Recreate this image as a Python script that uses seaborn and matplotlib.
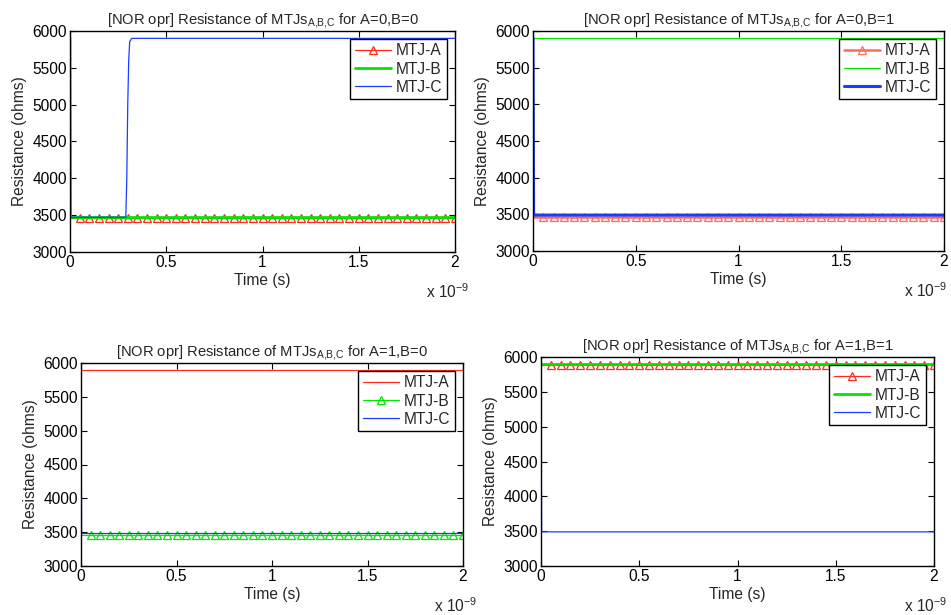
import numpy as np
import pandas as pd
import seaborn as sns
import matplotlib
matplotlib.use("Agg")
import matplotlib.pyplot as plt

sns.set_theme(style="white")
plt.rcParams['font.family'] = ['Liberation Sans', 'DejaVu Sans']
plt.rcParams['mathtext.fontset'] = 'custom'
plt.rcParams['mathtext.rm'] = 'Liberation Sans'
plt.rcParams['mathtext.it'] = 'Liberation Sans'

# ---- data (time in ns, resistance in ohms) ----
series_names = ["MTJ-A", "MTJ-B", "MTJ-C"]
titles = ["A=0,B=0", "A=0,B=1", "A=1,B=0", "A=1,B=1"]
xticks = [0, 0.5, 1, 1.5, 2]
yticks = [3000, 3500, 4000, 4500, 5000, 5500, 6000]

t_const = [0.0, 2.0]
t_drop = [0.0, 0.003, 2.0]
t_switch = [0.0, 0.29, 0.295, 0.30, 0.305, 0.31, 0.32, 2.0]
t_mark = [round(0.05 * i, 2) for i in range(0, 41)]

# panel 1: A=0,B=0
p1_A = [3455] * len(t_mark)
p1_B = [5900, 3468, 3468]
p1_C = [3472, 3472, 4000, 5000, 5600, 5850, 5900, 5900]
# panel 2: A=0,B=1
p2_A = [3462] * len(t_mark)
p2_B = [5900, 5900]
p2_C = [5900, 3490, 3490]
# panel 3: A=1,B=0
p3_A = [5890, 5890]
p3_B = [3462] * len(t_mark)
p3_C = [5900, 3480, 3480]
# panel 4: A=1,B=1
p4_A = [5882] * len(t_mark)
p4_B = [5900, 5900]
p4_C = [5900, 3490, 3490]

RED = "#ff2a1a"
GREEN = "#00e600"
BLUE = "#1a3cff"

panels = [
    [(t_mark, p1_A, RED, 0.9, True), (t_drop, p1_B, GREEN, 2.0, False), (t_switch, p1_C, BLUE, 0.9, False)],
    [(t_mark, p2_A, "#ff6a5a", 1.8, True), (t_const, p2_B, GREEN, 0.9, False), (t_drop, p2_C, BLUE, 2.2, False)],
    [(t_const, p3_A, RED, 0.9, False), (t_mark, p3_B, GREEN, 0.9, True), (t_drop, p3_C, BLUE, 0.9, False)],
    [(t_mark, p4_A, RED, 0.9, True), (t_const, p4_B, GREEN, 2.0, False), (t_drop, p4_C, BLUE, 0.9, False)],
]

W, H = 951, 615
FS = 11.2
fig = plt.figure(figsize=(W / 100, H / 100), dpi=100)
boxes = [(70, 455, 31, 252), (533, 944, 31, 251), (81, 463, 363, 566), (541, 934, 357, 566)]

for k, ((x0, x1, y0, y1), lines) in enumerate(zip(boxes, panels)):
    ax = fig.add_axes([x0 / W, 1 - y1 / H, (x1 - x0) / W, (y1 - y0) / H])
    for name, (t, v, c, lw, mk) in zip(series_names, lines):
        df = pd.DataFrame({"t": t, "R": v})
        kw = {}
        if mk:
            kw = dict(marker="^", markevery=slice(1, None), markersize=5.6,
                      markerfacecolor="none", markeredgecolor=c, markeredgewidth=0.9)
        sns.lineplot(data=df, x="t", y="R", ax=ax, color=c, lw=lw, label=name,
                     estimator=None, sort=False, **kw)
    ax.set_xlim(0, 2)
    ax.set_ylim(3000, 6000)
    ax.set_xticks(xticks)
    ax.set_xticklabels(["0", "0.5", "1", "1.5", "2"])
    ax.set_yticks(yticks)
    ax.tick_params(direction="in", length=4, width=0.8, labelsize=FS, colors="black",
                   top=True, right=True, left=True, bottom=True, pad=2)
    for s in ax.spines.values():
        s.set_color("black")
        s.set_linewidth(1.0)
    ax.set_xlabel("Time (s)", fontsize=FS, labelpad=2)
    ax.set_ylabel("Resistance (ohms)", fontsize=FS, labelpad=4)
    ax.set_title("[NOR opr] Resistance of MTJs$_{\\mathrm{A{,}B{,}C}}$ for " + titles[k],
                 fontsize=10.6, pad=5)
    xr = min(x1 + 14, 947)
    fig.text(xr / W, 1 - (y1 + 30) / H, "x 10$^{\\mathrm{-9}}$",
             ha="right", va="top", fontsize=FS)
    leg = ax.legend(loc="upper right", fontsize=FS, frameon=True, fancybox=False,
                    edgecolor="black", framealpha=1, borderpad=0.3, labelspacing=0.2,
                    handlelength=2.3, handletextpad=0.35, borderaxespad=0.5)
    leg.get_frame().set_linewidth(1.0)

fig.savefig("out.png", dpi=100)
